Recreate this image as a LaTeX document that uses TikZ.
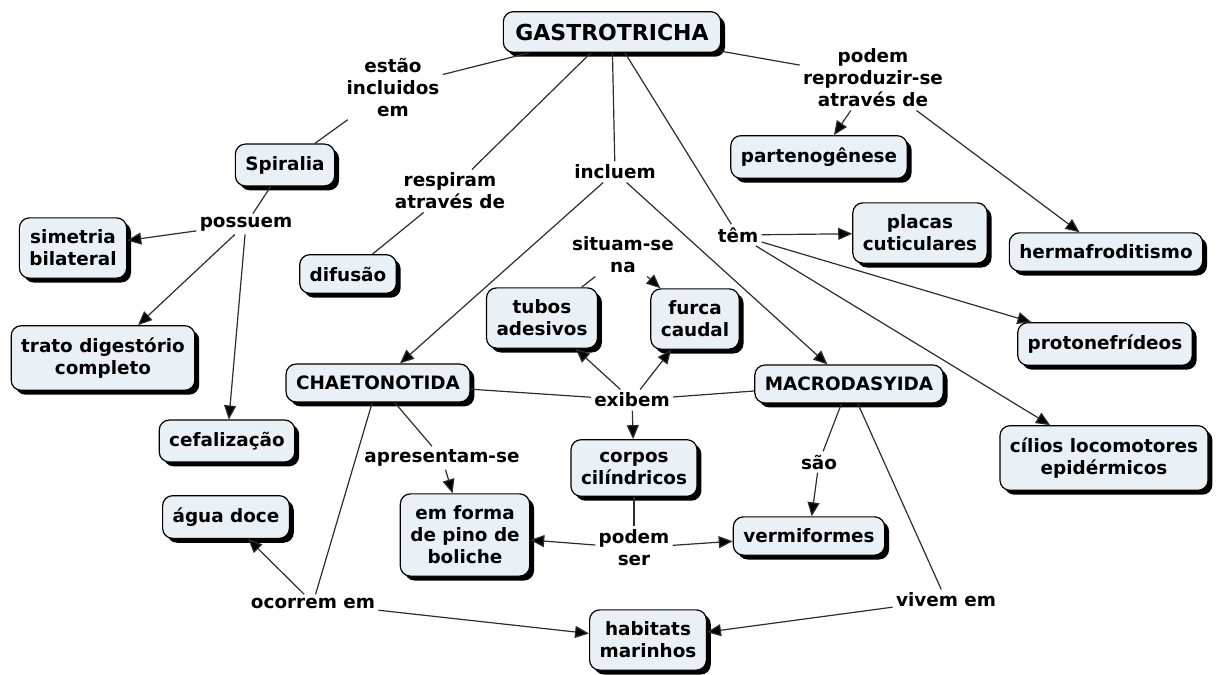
\documentclass[tikz,border=0pt]{standalone}
\usepackage{fontspec}
\setmainfont{DejaVu Sans}
\usetikzlibrary{arrows.meta,shadows}
\definecolor{cmapfill}{RGB}{233,241,246}
\definecolor{cmapline}{RGB}{45,45,45}

\begin{document}
\begin{tikzpicture}[x=0.5pt,y=-0.5pt,>={Triangle[length=7pt,width=6pt]}]
  \tikzstyle{concept}=[draw=black,line width=0.6pt,rounded corners=5pt,fill=cmapfill,
    drop shadow={shadow xshift=2.2pt,shadow yshift=-2.2pt,fill=black,opacity=1},
    inner xsep=5pt,inner ysep=6pt,align=center,font=\fontsize{9.2}{11}\selectfont\bfseries]
  \tikzstyle{link}=[inner sep=1.5pt,align=center,font=\fontsize{9.2}{11}\selectfont\bfseries]
  \tikzstyle{conn}=[draw=cmapline,line width=0.6pt]

  \useasboundingbox (0,0) rectangle (1222,675);

  \node [concept,inner xsep=6pt,font=\fontsize{11}{13}\selectfont\bfseries] (gastro) at (612,32) {GASTROTRICHA} ;

  % left branch
  \node [link] (lkIncl) at (393,87) {estão\\incluidos\\em} ;
  \node [concept] (spiralia) at (285,165) {Spiralia} ;
  \node [link] (lkPoss) at (246,224) {possuem} ;
  \node [concept] (simetria) at (73,248) {simetria\\bilateral} ;
  \node [concept] (trato) at (103,358) {trato digestório\\completo} ;
  \node [concept] (cefal) at (227,441) {cefalização} ;
  \path [conn] (gastro) edge (lkIncl) ;
  \path [conn] (lkIncl) edge (spiralia) ;
  \path [conn] (spiralia) edge (lkPoss) ;
  \path [conn,->] (lkPoss) edge (simetria) ;
  \path [conn,->] (lkPoss) edge (trato) ;
  \path [conn,->] (lkPoss) edge (cefal) ;

  \node [link] (lkResp) at (450,191) {respiram\\através de} ;
  \node [concept] (difusao) at (348,274) {difusão} ;
  \path [conn] (gastro) edge (lkResp) ;
  \path [conn] (lkResp) edge (difusao) ;

  % right branch
  \node [link] (lkRepr) at (873,78) {podem\\reproduzir-se\\através de} ;
  \node [concept] (parteno) at (819,157) {partenogênese} ;
  \node [concept] (herma) at (1106,252) {hermafroditismo} ;
  \path [conn] (gastro) edge (lkRepr) ;
  \path [conn,->] (lkRepr) edge (parteno) ;
  \path [conn,->] (lkRepr) edge (herma) ;

  \node [link] (lkTem) at (738,235) {têm} ;
  \node [concept] (placas) at (920,233) {placas\\cuticulares} ;
  \node [concept] (proton) at (1105,344) {protonefrídeos} ;
  \node [concept] (cilios) at (1104,458) {cílios locomotores\\epidérmicos} ;
  \path [conn] (gastro) edge (lkTem) ;
  \path [conn,->] (lkTem) edge (placas) ;
  \path [conn,->] (lkTem) edge (proton) ;
  \path [conn,->] (lkTem) edge (cilios) ;

  % middle
  \node [link] (lkInclu) at (615,172) {incluem} ;
  \node [concept] (chaeto) at (378,383) {CHAETONOTIDA} ;
  \node [concept] (macro) at (849,384) {MACRODASYIDA} ;
  \path [conn] (gastro) edge (lkInclu) ;
  \path [conn,->] (lkInclu) edge (chaeto) ;
  \path [conn,->] (lkInclu) edge (macro) ;

  \node [link] (lkExib) at (632,400) {exibem} ;
  \node [concept] (tubos) at (542,318) {tubos\\adesivos} ;
  \node [concept] (furca) at (695,319) {furca\\caudal} ;
  \node [concept] (corpos) at (634,468) {corpos\\cilíndricos} ;
  \path [conn] (chaeto) edge (lkExib) ;
  \path [conn] (macro) edge (lkExib) ;
  \path [conn,->] (lkExib) edge (tubos) ;
  \path [conn,->] (lkExib) edge (furca) ;
  \path [conn,->] (lkExib) edge (corpos) ;

  \node [link] (lkSitu) at (623,255) {situam-se\\na} ;
  \path [conn] (tubos) edge (lkSitu) ;
  \path [conn,->] (lkSitu) edge (furca) ;

  \node [link] (lkApre) at (442,458) {apresentam-se} ;
  \node [concept] (pino) at (465,535) {em forma\\de pino de\\boliche} ;
  \path [conn] (chaeto) edge (lkApre) ;
  \path [conn,->] (lkApre) edge (pino) ;

  \node [link] (lkSao) at (819,462) {são} ;
  \node [concept] (vermi) at (809,536) {vermiformes} ;
  \path [conn] (macro) edge (lkSao) ;
  \path [conn,->] (lkSao) edge (vermi) ;

  \node [link] (lkPode) at (634,548) {podem\\ser} ;
  \path [conn] (corpos) edge (lkPode) ;
  \path [conn,->] (lkPode) edge (pino) ;
  \path [conn,->] (lkPode) edge (vermi) ;

  % bottom
  \node [link] (lkOcor) at (313,603) {ocorrem em} ;
  \node [concept] (agua) at (226,517) {água doce} ;
  \node [concept] (habitats) at (648,640) {habitats\\marinhos} ;
  \path [conn] (chaeto) edge (lkOcor) ;
  \path [conn,->] (lkOcor) edge (agua) ;
  \path [conn,->] (lkOcor) edge (habitats) ;

  \node [link] (lkVive) at (946,600) {vivem em} ;
  \path [conn] (macro) edge (lkVive) ;
  \path [conn,->] (lkVive) edge (habitats) ;

\end{tikzpicture}
\end{document}
